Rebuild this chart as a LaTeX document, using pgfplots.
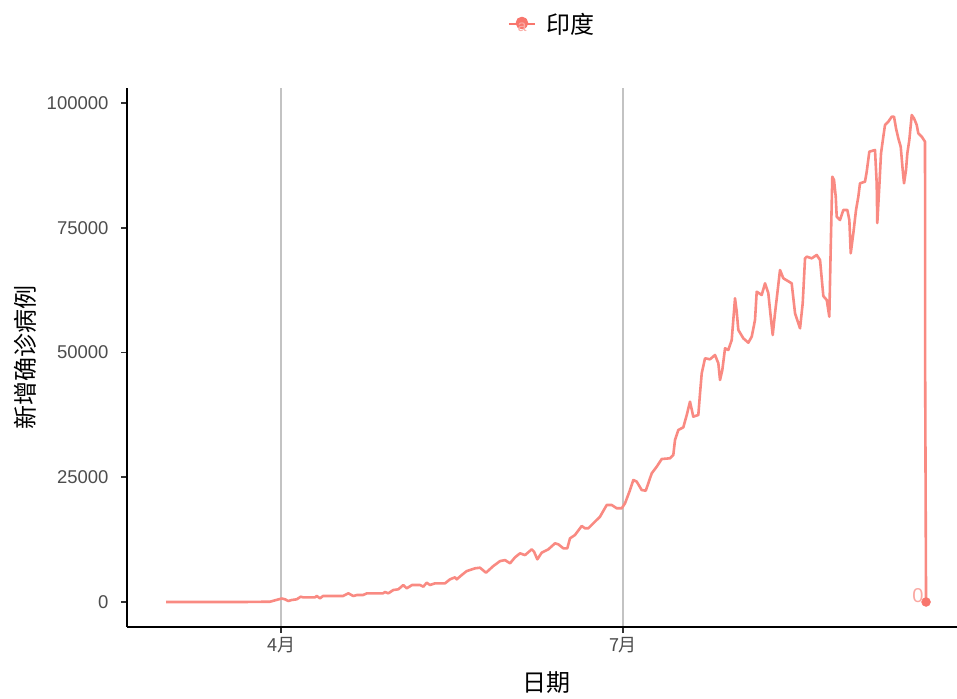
\documentclass[border=0pt]{standalone}
\usepackage{pgfplots}
\pgfplotsset{compat=1.18}
\usepackage{fontspec}
\setmainfont{Liberation Sans}
\newfontfamily\cjk{Noto Sans CJK SC}
\definecolor{lineC}{RGB}{249,138,130}
\definecolor{ptC}{RGB}{248,118,109}
\definecolor{tickC}{RGB}{77,77,77}
\definecolor{gridC}{RGB}{195,195,195}
\begin{document}
\begin{tikzpicture}
\useasboundingbox (0pt,0pt) rectangle (957pt,698pt);
\begin{axis}[
  at={(127pt,71pt)}, anchor=south west,
  scale only axis, width=830pt, height=539pt,
  xmin=-40.98, xmax=179.88, ymin=-5010, ymax=103006,
  axis x line*=bottom, axis y line*=left,
  axis line style={line width=2.3pt, black, -},
  xtick={0,91}, xticklabels={4月,7月},
  ytick={0,25000,50000,75000,100000},
  scaled y ticks=false,
  /pgf/number format/assume math mode=true,
  yticklabel style={/pgf/number format/fixed, /pgf/number format/precision=0, /pgf/number format/1000 sep={}, xshift=-9pt},
  ticklabel style={font=\fontsize{18.5}{20}\selectfont, text=tickC},
  xticklabel style={font=\cjk\fontsize{18}{20}\selectfont, yshift=-1pt},
  tick align=outside, major tick length=6pt,
  tick style={line width=1.6pt, color=black!80},
  xmajorgrids,
  major x grid style={line width=1.3pt, gridC},
  xlabel={\cjk 日期},
  xlabel style={at={(axis description cs:0.506,-0.1039)}, anchor=center, font=\fontsize{24}{24}\selectfont},
  ylabel={\cjk 新增确诊病例},
  ylabel style={at={(axis description cs:-0.1229,0.5)}, anchor=center, font=\fontsize{24}{24}\selectfont},
  legend style={at={(axis description cs:0.512,1.1187)}, anchor=center, draw=none, fill=none,
    font=\cjk\fontsize{24}{24}\selectfont,
    /tikz/every odd column/.append style={column sep=8pt}},
  legend image code/.code={
    \draw[ptC, line width=2.4pt] (0pt,0pt) -- (26pt,0pt);
    \fill[ptC] (13pt,1pt) circle (5pt);
    \node[text=ptC!60, font=\fontsize{16}{16}\selectfont, inner sep=0pt] at (13pt,-4pt) {a};
  },
]
\addplot[lineC, line width=2.6pt, line join=round] table {
d v
-30.60 0
-10.00 0
-2.93 60
0.19 700
1.06 540
1.94 200
2.85 400
4.18 540
5.24 1060
5.85 940
9.05 940
9.50 1200
10.38 740
11.18 1200
16.50 1200
17.91 1740
19.24 1200
20.22 1400
21.82 1400
22.88 1740
27.14 1740
27.67 2000
28.55 1740
29.88 2400
31.21 2540
32.54 3400
33.45 2740
34.86 3400
36.99 3400
37.87 3070
38.77 3870
39.65 3400
40.98 3740
43.64 3740
44.97 4540
46.30 4950
46.75 4540
48.08 5400
49.42 6200
51.62 6750
52.95 6870
54.55 5870
56.49 7200
58.28 8200
59.61 8400
60.94 7750
62.27 8950
63.60 9750
64.93 9400
66.71 10550
67.32 10100
68.20 8550
69.37 9880
71.13 10550
72.91 11760
73.79 11560
75.12 10760
76.18 10760
76.90 12760
78.23 13430
80.02 15230
80.89 14770
81.77 14770
83.10 15770
84.89 17100
86.67 19440
88.00 19440
89.33 18780
90.66 18780
91.54 19780
92.87 22440
93.75 24450
94.65 24120
95.98 22440
97.05 22300
97.74 23790
98.64 25790
99.97 27110
101.30 28650
103.51 28800
104.39 29470
104.84 32460
105.72 34470
107.05 35000
107.96 37470
108.83 40140
109.71 37140
111.04 37470
111.50 41820
111.95 45830
112.83 48840
114.16 48640
115.49 49500
116.37 47830
116.82 44490
117.43 46490
118.15 50840
119.03 50500
119.93 52500
120.81 60860
121.26 58180
121.69 54510
123.02 52840
124.35 51960
125.25 53170
126.13 56510
126.58 62190
127.91 61520
128.79 63860
129.67 61860
130.31 57170
130.84 53510
131.45 57850
132.07 61860
132.78 66530
133.66 64870
135.89 63860
136.78 57850
138.11 54850
138.82 59860
139.44 68870
139.89 69200
141.22 68870
142.55 69540
143.43 68540
144.31 61300
145.22 60520
145.90 57170
146.28 71200
146.70 85230
147.15 84570
147.61 81220
147.87 77210
148.75 76550
149.63 78560
150.69 78560
151.23 76550
151.60 69880
152.29 73890
153.01 78560
153.62 81220
154.07 83900
155.40 84230
155.85 86230
156.55 90240
158.06 90580
158.51 83900
158.67 75950
159.20 83230
159.66 89910
160.27 93250
160.72 95590
161.60 96250
162.50 97250
163.12 97250
163.65 94920
164.26 92920
164.90 91240
165.43 86570
165.78 83900
166.31 86570
166.66 89910
167.19 92580
167.83 97590
168.44 96920
169.16 95590
169.58 93920
170.49 93250
171.37 92250
171.40 46900
171.64 0
};
\addlegendentry{印度}
\addplot[forget plot, only marks, mark=*, mark size=4.5pt, ptC,
  nodes near coords={0},
  every node near coord/.append style={anchor=east, text=lineC!75, font=\fontsize{20}{20}\selectfont, xshift=1pt, yshift=6pt}]
  coordinates {(171.64,0)};
\end{axis}
\end{tikzpicture}
\end{document}
